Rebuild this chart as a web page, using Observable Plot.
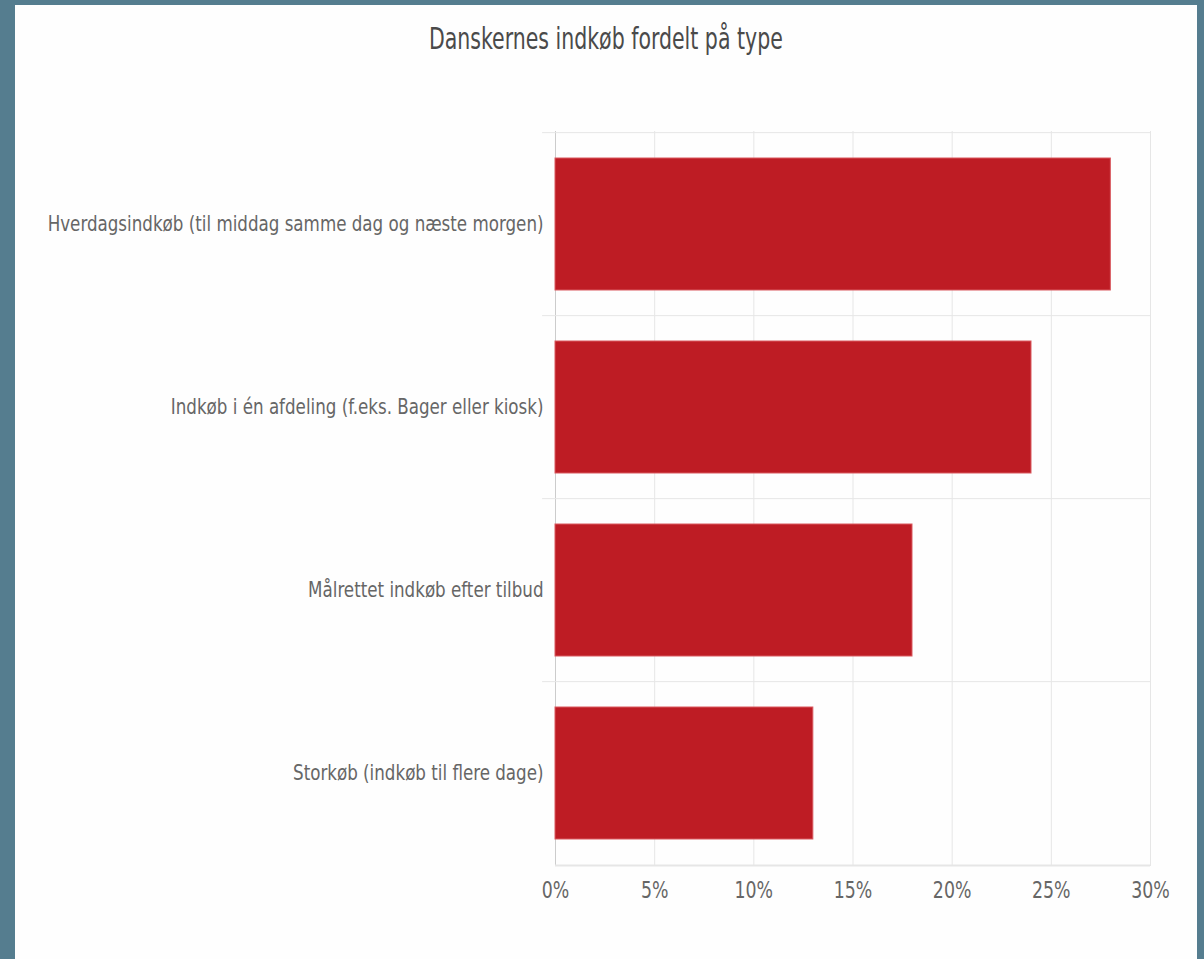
<!DOCTYPE html>
<html>
<head>
<meta charset="utf-8">
<script src="https://cdn.jsdelivr.net/npm/d3@7"></script>
<script src="https://cdn.jsdelivr.net/npm/@observablehq/plot@0.6"></script>
<style>
  html, body { margin: 0; padding: 0; }
  body { background: #557d8f; width: 1204px; height: 959px; overflow: hidden; position: relative; }
  #card { position: absolute; left: 15px; top: 5px; width: 1182px; height: 954px; background: #fefefe; }
  #title { position: absolute; left: 0; top: 16px; width: 100%; text-align: center; }
  #title span { display: inline-block; transform: scaleX(0.76); transform-origin: center;
    font-family: "Liberation Sans Narrow", "DejaVu Sans Condensed", sans-serif; font-size: 30px; color: #4a4a4a; }
  #chart { position: absolute; left: 0; top: 70px; }
</style>
</head>
<body>
<div id="card">
  <div id="title"><span>Danskernes indkøb fordelt på type</span></div>
  <div id="chart"></div>
</div>
<script>
const categories = [
  "Hverdagsindkøb (til middag samme dag og næste morgen)",
  "Indkøb i én afdeling (f.eks. Bager eller kiosk)",
  "Målrettet indkøb efter tilbud",
  "Storkøb (indkøb til flere dage)"
];
const values = [28, 24, 18, 13];
const xTicks = [0, 5, 10, 15, 20, 25, 30];

const data = categories.map((c, i) => ({category: c, value: values[i]}));

const W = 1182, H = 889;
const mTop = 56, mBottom = 98, mLeft = 540, mRight = 47;
const step = (H - mTop - mBottom) / categories.length;
const font = '"Liberation Sans Narrow", "DejaVu Sans Condensed", sans-serif';

const chart = Plot.plot({
  width: W, height: H,
  marginTop: mTop, marginBottom: mBottom, marginLeft: mLeft, marginRight: mRight,
  style: {fontFamily: font, background: "transparent", overflow: "visible"},
  x: {domain: [0, 30], axis: null},
  y: {domain: categories, paddingInner: 0.28, paddingOuter: 0.14, axis: null},
  marks: [
    Plot.ruleX(xTicks.slice(1), {stroke: "#e6e6e6", strokeWidth: 1}),
    Plot.ruleX([0], {stroke: "#cccccc", strokeWidth: 1}),
    Plot.ruleY(categories, {y: d => d, dy: -step / 2, x1: -0.65, x2: 30, stroke: "#e6e6e6", strokeWidth: 1}),
    Plot.ruleY([categories[categories.length - 1]], {y: d => d, dy: step / 2, x1: 0, x2: 30, stroke: "#e6e6e6", strokeWidth: 2}),
    Plot.barX(data, {x: "value", y: "category", fill: "#be1c24", stroke: "#d9585e", strokeWidth: 1}),
    Plot.axisY({anchor: "left", tickSize: 0, tickPadding: 12, fontSize: 21, color: "#666", label: null}),
    Plot.axisX(xTicks, {anchor: "bottom", tickSize: 0, tickPadding: 15, fontSize: 23, color: "#666",
      tickFormat: d => d + "%", label: null})
  ]
});

// condense the axis labels horizontally (no condensed narrow font installed)
function condense(selector, s) {
  chart.querySelectorAll(selector).forEach(t => {
    const x0 = +(t.getAttribute("x") || 0);
    const tr = t.getAttribute("transform") || "";
    t.setAttribute("transform", `${tr} translate(${x0 * (1 - s)},0) scale(${s},1)`);
  });
}
condense('g[aria-label="y-axis tick label"] text', 0.885);
condense('g[aria-label="x-axis tick label"] text', 0.84);

document.getElementById("chart").appendChild(chart);
</script>
</body>
</html>
